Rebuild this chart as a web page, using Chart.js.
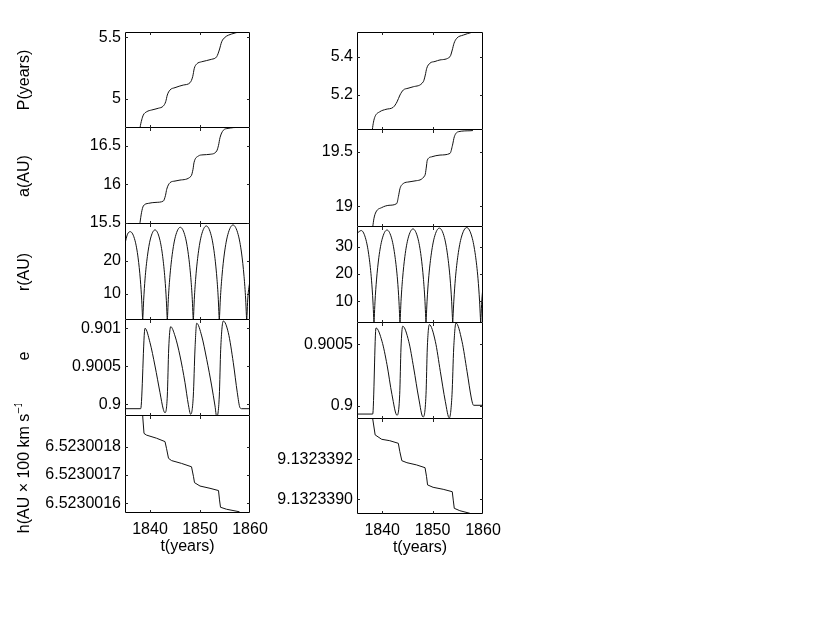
<!DOCTYPE html>
<html><head><meta charset="utf-8">
<script src="https://cdn.jsdelivr.net/npm/chart.js@4.4.1/dist/chart.umd.min.js"></script>
<style>
html,body{margin:0;padding:0;background:#fff;}
#wrap{position:relative;width:834px;height:643px;overflow:hidden;background:#fff;}
canvas{position:absolute;}
</style></head><body><div id="wrap"></div>
<script>
// ---------- shared axis data ----------
const xTicks = [1840, 1850, 1860];
const xTickLabels = ['1840', '1850', '1860'];
const xTitle = 't(years)';
const yTitles = ['P(years)', 'a(AU)', 'r(AU)', 'e', 'h(AU × 100 km s⁻¹)'];

// ---------- left column ----------
const tP1 = [1837.9, 1838.0, 1838.34, 1838.66, 1839.34, 1840.34, 1841.66, 1842.66, 1843.14, 1843.46, 1844.0, 1845.0, 1846.66, 1848.0, 1848.54, 1848.86, 1849.34, 1850.34, 1852.34, 1853.34, 1853.86, 1854.34, 1855.0, 1856.34, 1858.0];
const P1  = [4.72, 4.763, 4.830, 4.870, 4.897, 4.911, 4.925, 4.943, 4.978, 5.032, 5.073, 5.092, 5.113, 5.132, 5.181, 5.249, 5.284, 5.302, 5.322, 5.343, 5.397, 5.464, 5.500, 5.527, 5.545];

const tA1 = [1837.9, 1838.0, 1838.3, 1838.66, 1839.66, 1841.2, 1842.66, 1843.1, 1843.34, 1844.0, 1845.0, 1846.0, 1848.2, 1848.6, 1848.8, 1849.66, 1850.6, 1852.0, 1853.34, 1853.7, 1854.0, 1854.66, 1855.6, 1856.66, 1858.0];
const A1  = [15.45, 15.50, 15.63, 15.717, 15.752, 15.765, 15.782, 15.857, 15.935, 16.022, 16.043, 16.056, 16.106, 16.196, 16.283, 16.369, 16.385, 16.392, 16.435, 16.509, 16.609, 16.705, 16.73, 16.74, 16.745];

const tR1 = [1835.0, 1835.5, 1836.05, 1837.01, 1837.62, 1838.07, 1838.35, 1838.49, 1838.54,
  1838.59, 1838.73, 1839.01, 1839.47, 1840.08, 1841.0, 1841.93, 1842.54, 1842.99, 1843.27, 1843.41, 1843.46,
  1843.52, 1843.66, 1843.96, 1844.44, 1845.08, 1846.06, 1847.04, 1847.68, 1848.16, 1848.46, 1848.60, 1848.66,
  1848.72, 1848.86, 1849.16, 1849.64, 1850.28, 1851.26, 1852.24, 1852.88, 1853.36, 1853.66, 1853.80, 1853.86,
  1853.92, 1854.07, 1854.39, 1854.89, 1855.57, 1856.6, 1857.63, 1858.31, 1858.81, 1859.13, 1859.28, 1859.34,
  1859.40, 1859.55, 1860.0];
const R1 = [25.4, 28.2, 28.96, 26.2, 20.95, 14.26, 7.83, 3.2, 1.55,
  3.26, 7.98, 14.54, 21.35, 26.73, 29.5, 26.73, 21.35, 14.54, 7.98, 3.26, 1.55,
  3.35, 8.2, 14.93, 21.93, 27.45, 30.3, 27.45, 21.93, 14.93, 8.2, 3.35, 1.6,
  3.39, 8.31, 15.13, 22.22, 27.81, 30.7, 27.81, 22.22, 15.13, 8.31, 3.39, 1.6,
  3.43, 8.39, 15.28, 22.44, 28.09, 31.0, 28.09, 22.44, 15.28, 8.39, 3.43, 1.6,
  3.45, 8.4, 14.2];

const tE1 = [1835.0, 1838.14, 1839.0, 1840.0, 1841.0, 1842.0, 1842.66, 1843.0, 1843.46, 1843.74, 1844.14, 1845.0, 1846.0, 1847.0, 1847.66, 1848.14, 1848.66, 1849.0, 1849.34, 1850.34, 1851.34, 1852.34, 1853.0, 1853.34, 1853.86, 1854.14, 1854.66, 1855.66, 1856.66, 1857.46, 1858.0, 1858.34, 1860.0];
const E1  = [0.899942, 0.899942, 0.901000, 0.900811, 0.900504, 0.900153, 0.899934, 0.899889, 0.900109, 0.900728, 0.901021, 0.900899, 0.900636, 0.900284, 0.900000, 0.899868, 0.900109, 0.900728, 0.901066, 0.900899, 0.900592, 0.900241, 0.899978, 0.899837, 0.900109, 0.900724, 0.901096, 0.900942, 0.900547, 0.900153, 0.899955, 0.899942, 0.899942];

const tH1 = [1838.45, 1838.54, 1838.8, 1839.3, 1841.3, 1843.0, 1843.3, 1843.7, 1844.3, 1846.3, 1848.3, 1848.7, 1848.9, 1850.0, 1852.0, 1853.7, 1853.9, 1854.1, 1855.3, 1857.9];
const H1  = [6.52300193, 6.523001908, 6.523001847, 6.523001841, 6.52300183, 6.523001818, 6.523001794, 6.523001759, 6.523001751, 6.523001741, 6.523001729, 6.523001694, 6.523001673, 6.523001661, 6.523001653, 6.523001645, 6.523001612, 6.523001586, 6.523001579, 6.52300157];

// ---------- right column ----------
const tP2 = [1837.95, 1838.04, 1838.27, 1838.57, 1839.56, 1840.75, 1842.2, 1842.94, 1843.53, 1844.19, 1845.12, 1846.17, 1848.15, 1848.55, 1848.83, 1849.48, 1850.48, 1851.47, 1853.45, 1853.9, 1854.25, 1854.78, 1856.09, 1857.76];
const P2  = [4.99, 5.017, 5.058, 5.087, 5.113, 5.125, 5.136, 5.164, 5.2, 5.226, 5.235, 5.243, 5.269, 5.304, 5.339, 5.366, 5.375, 5.383, 5.400, 5.435, 5.470, 5.496, 5.513, 5.527];

const tA2 = [1838.0, 1838.12, 1838.37, 1838.77, 1839.9, 1841.35, 1842.88, 1843.23, 1843.53, 1844.19, 1845.32, 1846.51, 1848.49, 1848.73, 1848.95, 1849.82, 1851.47, 1853.45, 1853.95, 1854.31, 1855.1, 1857.42, 1858.0];
const A2  = [18.77, 18.81, 18.89, 18.948, 18.988, 19.009, 19.025, 19.092, 19.163, 19.209, 19.224, 19.233, 19.285, 19.350, 19.423, 19.454, 19.47, 19.485, 19.561, 19.638, 19.684, 19.693, 19.695];

const tR2 = [1835.0, 1835.85, 1836.78, 1837.41, 1837.88, 1838.17, 1838.31, 1838.37,
  1838.43, 1838.57, 1838.87, 1839.34, 1839.98, 1840.95, 1841.92, 1842.56, 1843.04, 1843.33, 1843.47, 1843.53,
  1843.59, 1843.73, 1844.03, 1844.50, 1845.14, 1846.11, 1847.08, 1847.72, 1848.19, 1848.49, 1848.63, 1848.69,
  1848.75, 1848.90, 1849.20, 1849.69, 1850.34, 1851.34, 1852.34, 1852.99, 1853.48, 1853.78, 1853.93, 1853.99,
  1854.05, 1854.21, 1854.52, 1855.03, 1855.72, 1856.77, 1857.81, 1858.50, 1859.01, 1859.32, 1859.48, 1859.54,
  1859.60, 1859.76, 1860.0];
const R2 = [34.9, 35.9, 32.5, 26.0, 17.7, 9.7, 4.0, 1.9,
  4.0, 9.77, 17.78, 26.1, 32.7, 36.1, 32.7, 26.1, 17.78, 9.77, 4.0, 1.9,
  4.03, 9.87, 17.98, 26.41, 33.06, 36.5, 33.06, 26.41, 17.98, 9.87, 4.03, 1.9,
  4.07, 9.96, 18.13, 26.63, 33.34, 36.8, 33.34, 26.63, 18.13, 9.96, 4.07, 1.9,
  4.09, 10.0, 18.22, 26.77, 33.51, 37.0, 33.51, 26.77, 18.22, 10.0, 4.09, 1.9,
  4.1, 10.0, 15.4];

const tE2 = [1835.0, 1838.12, 1838.77, 1839.96, 1840.95, 1841.94, 1842.94, 1843.47, 1843.73, 1844.07, 1845.26, 1846.25, 1847.24, 1848.10, 1848.69, 1848.95, 1849.35, 1850.54, 1851.53, 1852.52, 1853.31, 1853.85, 1854.19, 1854.64, 1855.83, 1856.83, 1857.68, 1858.02, 1858.16, 1860.0];
const E2  = [0.899935, 0.899935, 0.900632, 0.900524, 0.900335, 0.900092, 0.899925, 0.900092, 0.900470, 0.900646, 0.900524, 0.900308, 0.900065, 0.899911, 0.900092, 0.900470, 0.900659, 0.900524, 0.900281, 0.900038, 0.899903, 0.900092, 0.900470, 0.900672, 0.900524, 0.900281, 0.900065, 0.900011, 0.900006, 0.900006];

const tH2 = [1838.0, 1838.12, 1838.6, 1839.9, 1841.5, 1843.2, 1843.5, 1843.9, 1844.9, 1846.8, 1848.5, 1848.8, 1849.0, 1850.1, 1852.1, 1853.9, 1854.1, 1854.3, 1855.4, 1857.4];
const H2  = [9.13233943, 9.132339402, 9.132339322, 9.1323393, 9.132339293, 9.13233928, 9.132339238, 9.132339193, 9.132339183, 9.132339172, 9.132339158, 9.132339113, 9.132339072, 9.13233906, 9.13233905, 9.132339038, 9.132338996, 9.132338955, 9.132338943, 9.13233893];

// ---------- y tick values and labels ----------
const P1Ticks = [5, 5.5];                        const P1TickLabels = ['5', '5.5'];
const A1Ticks = [15.5, 16, 16.5];                const A1TickLabels = ['15.5', '16', '16.5'];
const R1Ticks = [10, 20];                        const R1TickLabels = ['10', '20'];
const E1Ticks = [0.9, 0.9005, 0.901];            const E1TickLabels = ['0.9', '0.9005', '0.901'];
const H1Ticks = [6.5230016, 6.5230017, 6.5230018]; const H1TickLabels = ['6.5230016', '6.5230017', '6.5230018'];
const P2Ticks = [5.2, 5.4];                      const P2TickLabels = ['5.2', '5.4'];
const A2Ticks = [19, 19.5];                      const A2TickLabels = ['19', '19.5'];
const R2Ticks = [10, 20, 30];                    const R2TickLabels = ['10', '20', '30'];
const E2Ticks = [0.9, 0.9005];                   const E2TickLabels = ['0.9', '0.9005'];
const H2Ticks = [9.132339, 9.1323392];           const H2TickLabels = ['9.1323390', '9.1323392'];

// ---------- layout ----------
const FONT = '"Liberation Sans", Arial, Helvetica, sans-serif';
const wrap = document.getElementById('wrap');
const cols = [
  {x0: 0,   w: 290, axisW: 125, plotRight: 250, tops: [32,128,224,320,416], bottoms: [128,224,320,416,513]},
  {x0: 262, w: 258, axisW: 95,  plotRight: 483, tops: [32,130,227,323,419], bottoms: [130,227,323,419,514]}
];

const framePlugin = {
  id: 'frame',
  afterDraw(chart, args, opts) {
    const {ctx, chartArea: a, scales} = chart;
    ctx.save();
    ctx.strokeStyle = '#000';
    ctx.lineWidth = 1;
    const l = a.left + 0.5, r = a.right - 0.5, t = a.top + 0.5, b = a.bottom - 0.5;
    ctx.beginPath();
    if (opts.noTop) {
      ctx.moveTo(l, a.top); ctx.lineTo(l, b); ctx.lineTo(r, b); ctx.lineTo(r, a.top);
    } else {
      ctx.rect(l, t, r - l, b - t);
    }
    ctx.stroke();
    ctx.strokeStyle = '#222';
    ctx.beginPath();
    const L = 3;
    scales.y.ticks.forEach(tk => {
      const y = Math.round(scales.y.getPixelForValue(tk.value)) + 0.5;
      ctx.moveTo(a.left, y); ctx.lineTo(a.left + L, y);
      ctx.moveTo(a.right, y); ctx.lineTo(a.right - L, y);
    });
    xTicks.forEach(v => {
      const px = scales.x.getPixelForValue(v);
      if (px <= a.left + 1 || px >= a.right - 1) return;
      const x = Math.round(px) + 0.5;
      ctx.moveTo(x, a.bottom); ctx.lineTo(x, a.bottom - L);
      ctx.moveTo(x, a.top); ctx.lineTo(x, a.top + L);
    });
    ctx.stroke();
    if (opts && opts.title) {
      const txt = opts.title;
      const segs = [];
      const k = txt.indexOf('⁻¹');
      if (k >= 0) {
        segs.push({t: txt.slice(0, k)}, {t: '−1', sup: true}, {t: txt.slice(k + 2)});
      } else segs.push({t: txt});
      const mainFont = '16px ' + FONT, supFont = '11px ' + FONT;
      ctx.translate(opts.titleX, (a.top + a.bottom) / 2 + (opts.shift || 0));
      ctx.rotate(-Math.PI / 2);
      ctx.fillStyle = '#000';
      ctx.textBaseline = 'middle';
      ctx.textAlign = 'left';
      let total = 0;
      segs.forEach(s => { ctx.font = s.sup ? supFont : mainFont; s.w = ctx.measureText(s.t).width; total += s.w; });
      let x = -total / 2;
      segs.forEach(s => { ctx.font = s.sup ? supFont : mainFont; ctx.fillText(s.t, x, s.sup ? -6 : 0); x += s.w; });
    }
    ctx.restore();
  }
};

function makePanel(c, r, tArr, vArr, ax, smooth, title, shift) {
  const col = cols[c];
  const isBottom = r === 4;
  const top = col.tops[r], bot = col.bottoms[r];
  const padT = 12, padB = isBottom ? 0 : 12, xH = isBottom ? 50 : 0;
  const h = (bot - top) + padT + padB + xH;
  const cv = document.createElement('canvas');
  cv.width = col.w; cv.height = h;
  cv.style.left = col.x0 + 'px'; cv.style.top = (top - padT) + 'px';
  cv.style.width = col.w + 'px'; cv.style.height = h + 'px';
  wrap.appendChild(cv);
  const zeroPad = s => { s.paddingLeft = 0; s.paddingRight = 0; s.paddingTop = 0; s.paddingBottom = 0; };
  new Chart(cv, {
    type: 'line',
    data: {
      datasets: [{
        data: tArr.map((t, i) => ({x: t, y: vArr[i]})),
        borderColor: '#111', borderWidth: 1, pointRadius: 0, fill: false,
        cubicInterpolationMode: smooth ? 'monotone' : 'default', tension: 0, clip: 0
      }]
    },
    options: {
      responsive: false, animation: false, devicePixelRatio: 1,
      layout: {padding: {left: 0, top: padT, right: col.x0 + col.w - col.plotRight, bottom: padB}},
      plugins: {
        legend: {display: false}, tooltip: {enabled: false},
        frame: {title: title, titleX: 25, shift: shift || 0, noTop: r > 0}
      },
      scales: {
        x: {
          type: 'linear', min: 1835, max: 1860, display: isBottom,
          afterBuildTicks: s => { s.ticks = xTicks.map(v => ({value: v})); },
          afterFit: s => { s.height = xH; zeroPad(s); },
          grid: {display: false, drawTicks: false}, border: {display: false},
          ticks: {autoSkip: false, maxRotation: 0, padding: 7, color: '#000', font: {family: FONT, size: 16},
                  callback: (v, i) => xTickLabels[i]},
          title: {display: true, text: xTitle, color: '#000', font: {family: FONT, size: 16}, padding: {top: 0, bottom: 7}}
        },
        y: {
          type: 'linear', min: ax.min, max: ax.max,
          afterBuildTicks: s => { s.ticks = ax.ticks.map(v => ({value: v})); },
          afterFit: s => { s.width = col.axisW; zeroPad(s); },
          grid: {display: false, drawTicks: false}, border: {display: false},
          ticks: {autoSkip: false, padding: 4, color: '#000', font: {family: FONT, size: 16},
                  callback: (v, i) => ax.labels[i]}
        }
      }
    },
    plugins: [framePlugin]
  });
}

// left column
makePanel(0, 0, tP1, P1, {min: 4.765, max: 5.543, ticks: P1Ticks, labels: P1TickLabels}, true, yTitles[0]);
makePanel(0, 1, tA1, A1, {min: 15.483, max: 16.735, ticks: A1Ticks, labels: A1TickLabels}, true, yTitles[1]);
makePanel(0, 2, tR1, R1, {min: 2.0, max: 31.3, ticks: R1Ticks, labels: R1TickLabels}, true, yTitles[2]);
makePanel(0, 3, tE1, E1, {min: 0.899846, max: 0.901109, ticks: E1Ticks, labels: E1TickLabels}, true, yTitles[3], -12);
makePanel(0, 4, tH1, H1, {min: 6.5230015657, max: 6.5230019085, ticks: H1Ticks, labels: H1TickLabels}, false, yTitles[4]);
// right column
makePanel(1, 0, tP2, P2, {min: 5.017, max: 5.529, ticks: P2Ticks, labels: P2TickLabels}, true);
makePanel(1, 1, tA2, A2, {min: 18.81, max: 19.70, ticks: A2Ticks, labels: A2TickLabels}, true);
makePanel(1, 2, tR2, R2, {min: 2.0, max: 37.2, ticks: R2Ticks, labels: R2TickLabels}, true);
makePanel(1, 3, tE2, E2, {min: 0.899895, max: 0.900672, ticks: E2Ticks, labels: E2TickLabels}, true);
makePanel(1, 4, tH2, H2, {min: 9.1323389265, max: 9.1323394015, ticks: H2Ticks, labels: H2TickLabels}, false);
</script></body></html>
